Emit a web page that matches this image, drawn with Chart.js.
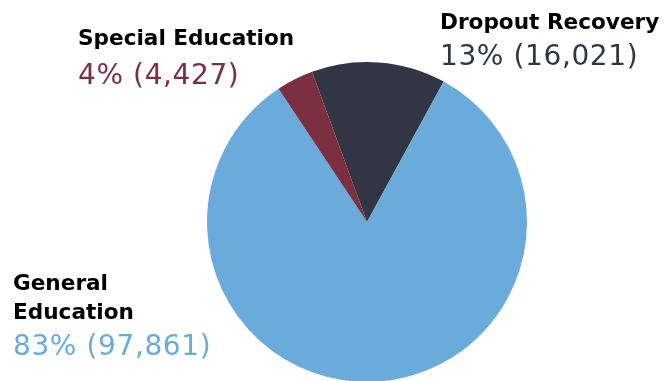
<!DOCTYPE html>
<html>
<head>
<meta charset="utf-8">
<script src="https://cdn.jsdelivr.net/npm/chart.js@4.4.1/dist/chart.umd.min.js"></script>
<style>
  html, body { margin: 0; padding: 0; background: #fff; overflow: hidden; }
  #wrap { position: relative; width: 665px; height: 400px; }
</style>
</head>
<body>
<div id="wrap"><canvas id="enrollChart"></canvas></div>
<script>
// Enrollment by program type
const categories = ["Dropout Recovery", "General Education", "Special Education"];
const counts = [16021, 97861, 4427];
const shares = [13, 83, 4];
const sliceColors = ["#323544", "#6aabdc", "#7b2f40"];

// where each category's caption sits (name lines + value line)
const captions = [
  { x: 440, lines: ["Dropout Recovery"], nameBase: 28.5, valueBase: 64.5 },
  { x: 13, lines: ["General", "Education"], nameBase: 318.5, valueBase: 355 },
  { x: 78, lines: ["Special Education"], nameBase: 45, valueBase: 83.5 },
];

const captionPlugin = {
  id: "captions",
  afterDraw(chart) {
    const ctx = chart.ctx;
    ctx.save();
    ctx.textAlign = "left";
    ctx.textBaseline = "alphabetic";
    captions.forEach((c, i) => {
      ctx.fillStyle = "#000";
      ctx.font = "bold 21.6px 'DejaVu Sans'";
      ctx.letterSpacing = "0px";
      c.lines.forEach((line, j) => {
        ctx.fillText(line, c.x, c.nameBase - (c.lines.length - 1 - j) * 28.5);
      });
      ctx.fillStyle = sliceColors[i];
      ctx.font = "28px 'DejaVu Sans'";
      ctx.letterSpacing = "0.6px";
      ctx.fillText(shares[i] + "% (" + counts[i].toLocaleString("en-US") + ")", c.x, c.valueBase);
    });
    ctx.restore();
  },
};

const ctx = document.getElementById("enrollChart").getContext("2d");
const enrollChart = new Chart(ctx, {
  type: "pie",
  data: {
    labels: categories,
    datasets: [
      {
        data: counts,
        backgroundColor: sliceColors,
        borderWidth: 0,
      },
    ],
  },
  options: {
    responsive: true,
    maintainAspectRatio: false,
    animation: false,
    rotation: -20.1,
    layout: {
      padding: { left: 207, right: 138, top: 62, bottom: 18 },
    },
    plugins: {
      legend: { display: false },
      tooltip: { enabled: false },
    },
  },
  plugins: [captionPlugin],
});
</script>
</body>
</html>
